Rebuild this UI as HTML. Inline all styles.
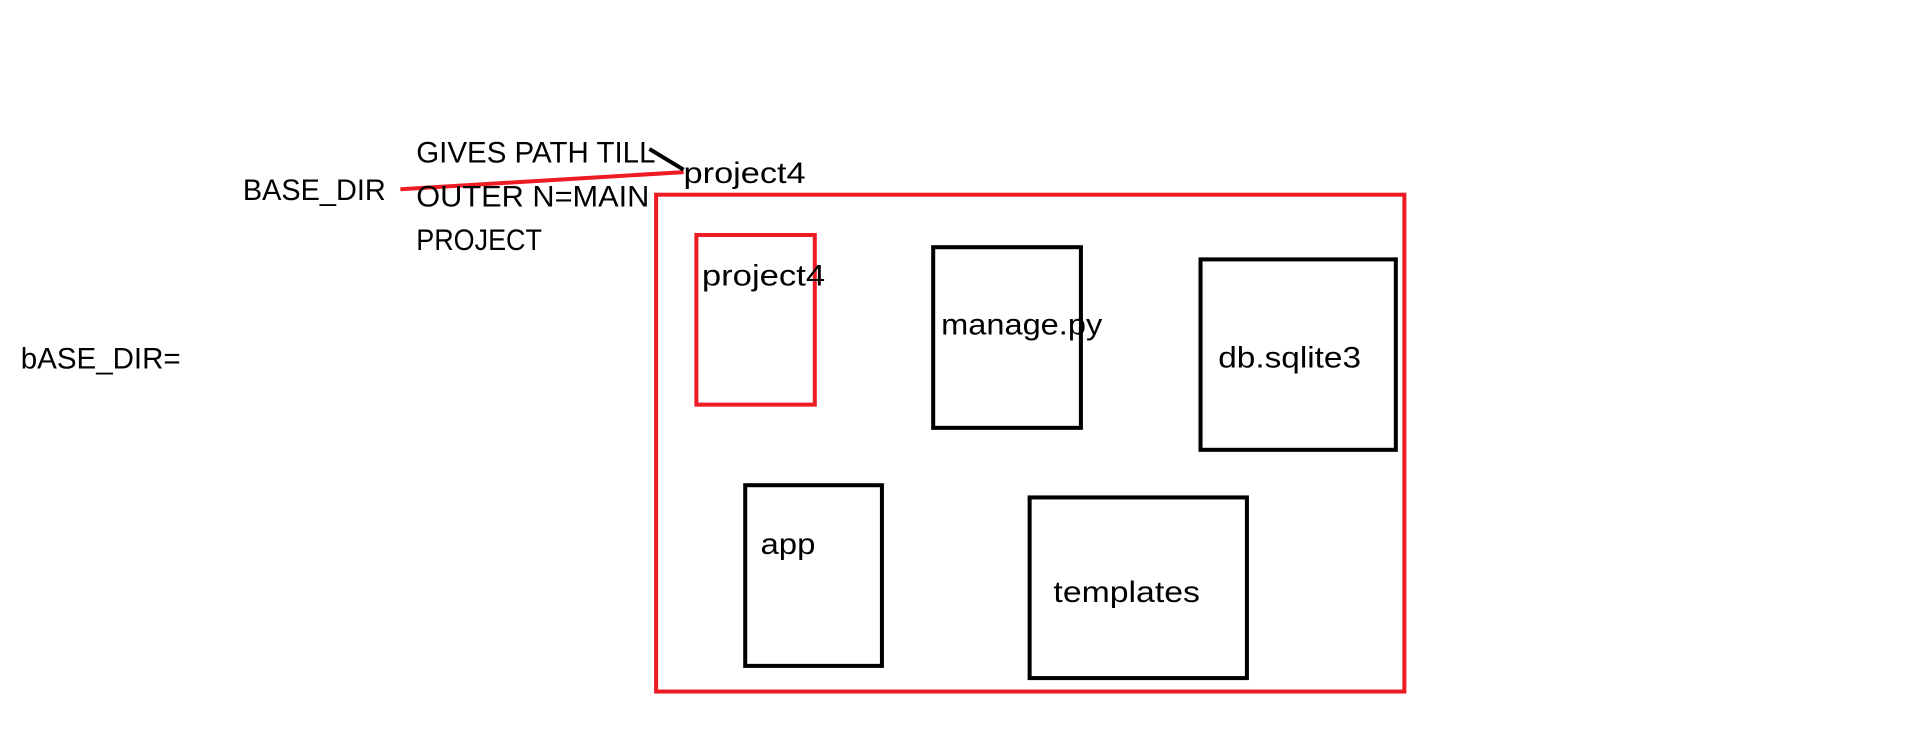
<!DOCTYPE html>
<html><head><meta charset="utf-8"><style>
html,body{margin:0;padding:0;background:#fff;}
svg{display:block;}
text{font-family:"Liberation Sans",sans-serif;font-size:24px;fill:#000;}
</style></head><body>
<svg width="1914" height="739" viewBox="0 0 1568 605.4" preserveAspectRatio="none" xmlns="http://www.w3.org/2000/svg">
<rect width="1568" height="606" fill="#fff"/>
<rect x="537.5" y="159.5" width="613" height="407" fill="none" stroke="#ed1c24" stroke-width="3.3"/>
<rect x="570.5" y="192.5" width="97" height="139" fill="none" stroke="#ed1c24" stroke-width="3.3"/>
<rect x="764.5" y="202.5" width="121" height="148" fill="none" stroke="#000" stroke-width="3.3"/>
<rect x="983.5" y="212.5" width="160" height="156" fill="none" stroke="#000" stroke-width="3.3"/>
<rect x="610.5" y="397.5" width="112" height="148" fill="none" stroke="#000" stroke-width="3.3"/>
<rect x="843.5" y="407.5" width="178" height="148" fill="none" stroke="#000" stroke-width="3.3"/>
<line x1="328" y1="155" x2="560" y2="141" stroke="#ed1c24" stroke-width="3.3"/>
<line x1="532" y1="122" x2="560" y2="139" stroke="#000" stroke-width="3.3"/>
<text x="199" y="164" textLength="117" lengthAdjust="spacingAndGlyphs">BASE_DIR</text>
<text x="341" y="133" textLength="196" lengthAdjust="spacingAndGlyphs">GIVES PATH TILL</text>
<text x="341" y="169" textLength="191" lengthAdjust="spacingAndGlyphs">OUTER N=MAIN</text>
<text x="341" y="205" textLength="103" lengthAdjust="spacingAndGlyphs">PROJECT</text>
<text x="560" y="150" textLength="100" lengthAdjust="spacingAndGlyphs">project4</text>
<text x="17" y="302" textLength="131" lengthAdjust="spacingAndGlyphs">bASE_DIR=</text>
<text x="575" y="234" textLength="101" lengthAdjust="spacingAndGlyphs">project4</text>
<text x="771" y="274" textLength="132" lengthAdjust="spacingAndGlyphs">manage.py</text>
<text x="998" y="301" textLength="117" lengthAdjust="spacingAndGlyphs">db.sqlite3</text>
<text x="623" y="454" textLength="45" lengthAdjust="spacingAndGlyphs">app</text>
<text x="863" y="493" textLength="120" lengthAdjust="spacingAndGlyphs">templates</text>
</svg>
</body></html>
